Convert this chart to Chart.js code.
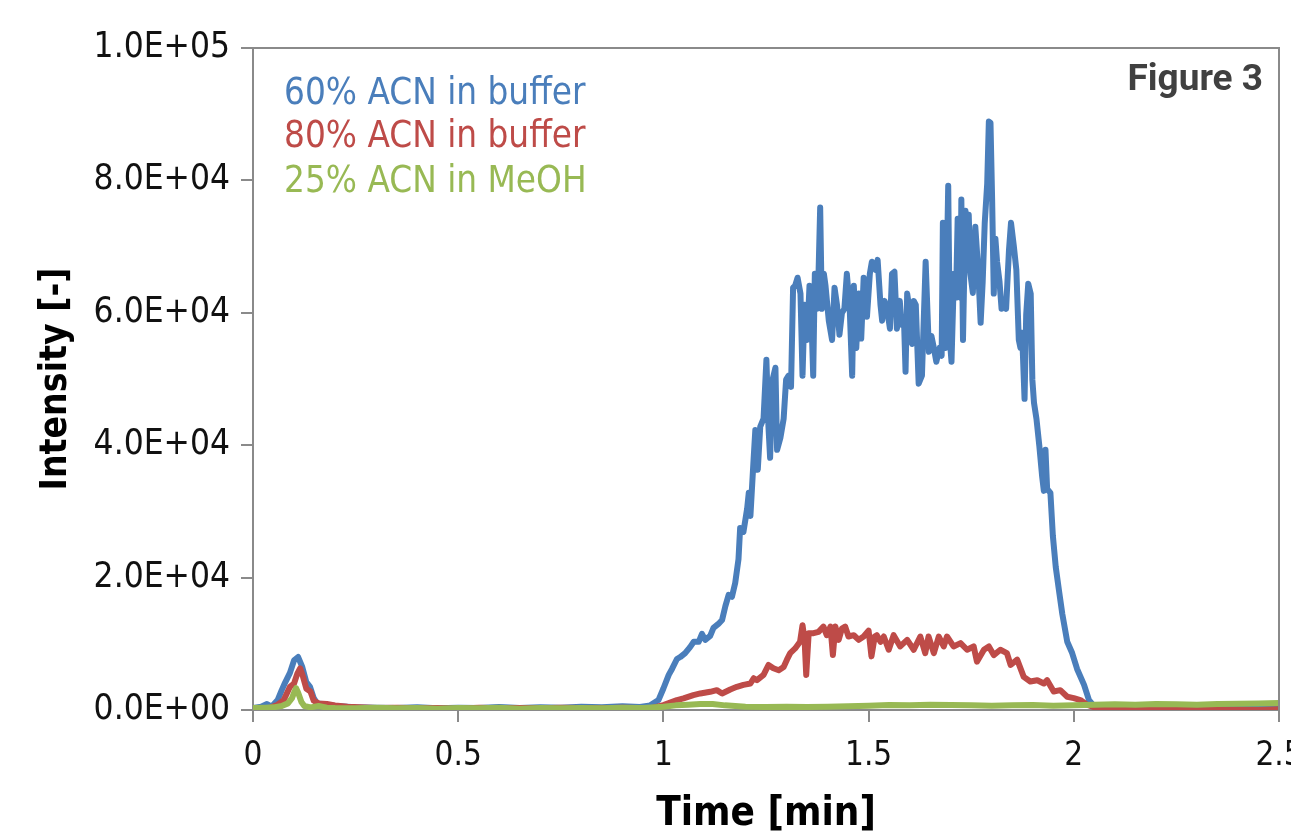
<!DOCTYPE html>
<html lang="en">
<head>
<meta charset="UTF-8">
<title>Figure 3</title>
<script src="https://cdn.jsdelivr.net/npm/chart.js"></script>
<style>
  html, body { margin: 0; padding: 0; background: #fff; overflow: hidden; }
  canvas { display: block; }
</style>
</head>
<body>
<canvas id="chart" width="1291" height="837"></canvas>
<script>
// series labels
var seriesLabels = ["60% ACN in buffer", "80% ACN in buffer", "25% ACN in MeOH"];

// 60% ACN in buffer (blue)
var blueTime = [0.000,0.020,0.034,0.045,0.060,0.070,0.078,0.090,0.100,0.110,0.120,0.130,0.139,0.148,0.156,0.170,0.190,0.210,0.250,0.300,0.350,0.400,0.450,0.500,0.550,0.600,0.650,0.700,0.750,0.800,0.850,0.900,0.943,
  0.968,0.988,1.000,1.013,1.021,1.033,1.041,1.053,1.065,1.074,1.086,1.094,1.102,1.114,1.122,1.134,1.143,1.151,1.159,1.167,1.175,1.183,1.187,1.195,1.204,1.208,1.212,1.220,1.224,1.230,1.236,1.244,1.251,1.256,1.260,1.266,1.273,1.277,1.285,1.293,1.299,1.305,1.311,1.316,1.321,1.327,1.334,1.339,1.344,1.350,1.356,1.360,1.365,1.369,1.374,1.378,1.382,1.386,1.391,1.395,1.403,1.411,1.417,1.423,1.429,1.435,1.441,1.447,1.454,1.460,1.464,1.470,1.476,1.482,1.488,1.496,1.503,1.508,1.517,1.522,1.529,1.533,1.539,1.545,1.552,1.557,1.563,1.569,1.576,1.580,1.586,1.590,1.594,1.598,1.602,1.606,1.610,1.615,1.622,1.630,1.639,1.647,1.653,1.659,1.665,1.673,1.678,1.681,1.687,1.694,1.698,1.702,1.708,1.713,1.717,1.724,1.726,1.730,1.736,1.740,1.744,1.748,1.754,1.760,1.767,1.773,1.778,1.783,1.789,1.793,1.797,1.801,1.805,1.809,1.813,1.819,1.824,1.830,1.835,1.842,1.847,1.854,1.860,1.866,1.870,1.874,1.880,1.884,1.889,1.895,1.899,1.903,1.909,1.916,1.923,1.927,1.931,1.935,1.943,1.949,1.956,1.964,1.972,1.984,1.996,2.008,2.025,2.037,2.049,2.065,
  2.100,2.150,2.200,2.250,2.300,2.350,2.400,2.450,2.500];
var blueInt = [300,500,900,500,1500,3000,4100,5600,7500,8000,6500,4200,3500,1800,1000,900,700,550,400,350,300,420,260,350,300,450,300,400,350,480,400,580,450,
  700,1500,3250,5300,6200,7700,8000,8600,9500,10300,10300,11500,10600,11200,12400,13000,13600,15700,17400,17100,19200,22800,27500,26900,30400,32800,29300,38100,42300,36300,42800,44000,52900,42800,38100,49900,51700,39300,41100,44000,49900,50500,48800,63800,64100,65300,62900,50500,61200,55900,64100,60600,50500,65900,60600,65900,75900,60600,65900,64100,58800,55900,63800,61200,56700,60000,60600,65900,60600,50500,64100,54700,62900,56100,65300,59400,65900,67700,66500,68000,61200,58800,61800,60600,57600,65900,66200,57600,61800,58200,59400,51100,62900,61200,55900,55300,61800,61200,49300,50500,67700,54100,56500,54700,52600,54700,53500,73600,54700,79200,55900,52600,65900,62300,74200,62300,77100,55900,75400,66500,74800,65900,63000,73000,66500,58500,64700,73600,79500,88900,88700,77100,62900,71200,67700,64700,60600,61800,60600,69400,73600,70000,66500,55900,54700,57000,47000,59700,64400,62900,49900,46400,44000,39900,35200,33100,39300,33400,32800,26300,21600,18000,14500,10300,8600,6200,3800,1500,600,450,
  500,400,550,450,500,400,550,500,450];

// 80% ACN in buffer (red)
var redTime = [0.000,0.040,0.060,0.075,0.090,0.100,0.108,0.115,0.122,0.130,0.140,0.148,0.160,0.180,0.200,0.230,0.300,0.350,0.400,0.450,0.500,0.550,0.600,0.650,0.700,0.750,0.800,0.850,0.900,0.968,
  1.000,1.033,1.049,1.073,1.090,1.114,1.130,1.143,1.163,1.179,1.195,1.212,1.220,1.228,1.244,1.256,1.268,1.281,1.293,1.301,1.309,1.321,1.333,1.339,1.344,1.348,1.354,1.366,1.378,1.390,1.398,1.407,1.413,1.419,1.427,1.435,1.443,1.451,1.464,1.476,1.488,1.500,1.507,1.515,1.520,1.529,1.537,1.549,1.561,1.577,1.594,1.610,1.626,1.638,1.646,1.659,1.671,1.683,1.691,1.707,1.724,1.740,1.756,1.764,1.781,1.793,1.805,1.821,1.837,1.846,1.862,1.878,1.894,1.911,1.927,1.935,1.951,1.967,1.984,2.000,2.016,2.032,2.057,
  2.100,2.150,2.200,2.250,2.300,2.350,2.400,2.450,2.500];
var redInt = [200,300,800,1500,3500,4000,5500,6300,5000,3200,2800,1400,1000,900,700,500,300,350,250,300,200,350,250,300,250,350,300,250,350,250,
  750,1500,1750,2250,2500,2750,3000,2500,3100,3500,3800,4000,4800,4500,5300,6800,6300,6000,6500,7600,8600,9300,10300,12800,10600,5300,11600,11600,11800,12600,11300,12600,8300,12600,10600,12300,12600,11100,11300,10600,11100,12000,8100,11100,11300,10300,11100,9100,11300,9600,10600,9100,11100,8600,11100,8600,11100,9600,11100,9600,10100,9100,9600,7300,9100,9600,8300,9100,8600,6800,7600,5000,4300,4500,4000,4500,2800,3000,2000,1800,1500,800,250,
  0,100,50,0,100,0,50,0,100];

// 25% ACN in MeOH (green)
var greenTime = [0.000,0.030,0.050,0.070,0.085,0.095,0.100,0.105,0.110,0.118,0.125,0.140,0.160,0.180,0.200,0.250,0.300,0.350,0.400,0.450,0.500,0.550,0.600,0.650,0.700,0.750,0.800,0.850,0.900,0.950,
  1.000,1.030,1.060,1.090,1.120,1.150,1.200,1.250,1.300,1.350,1.400,1.450,1.500,1.550,1.600,1.650,1.700,1.750,1.800,1.850,1.900,1.950,2.000,2.050,2.100,2.150,2.200,2.250,2.300,2.350,2.400,2.450,2.500];
var greenInt = [300,350,400,600,1000,1800,2600,3300,2600,1200,600,400,600,350,300,250,350,250,300,200,300,250,350,200,300,250,300,250,350,300,
  500,700,800,900,900,700,500,450,500,450,500,550,650,750,700,800,750,700,650,700,750,650,700,800,850,800,900,850,800,900,950,1000,1050];

// tick labels
var xTicks = [0, 0.5, 1, 1.5, 2, 2.5];
var yTicks = [0, 20000, 40000, 60000, 80000, 100000];

var corBlue = '#4a7ebb';
var corRed = '#be4b48';
var corGreen = '#98b954';
var corAxis = '#8a8a8a';
var fonte = '"DejaVu Sans Condensed", "DejaVu Sans", sans-serif';

function pontos(tempo, valores) {
    return tempo.map(function (t, i) { return { x: t, y: valores[i] }; });
}

// formato 2.0E+04
function formatoExp(v) {
    var s = v.toExponential(1).split('e');
    var exp = parseInt(s[1], 10);
    var sinal = exp < 0 ? '-' : '+';
    var num = Math.abs(exp);
    return s[0] + 'E' + sinal + (num < 10 ? '0' + num : num);
}

// borda de cima/direita, legenda e "Figure 3"
var extras = {
    id: 'extras',
    afterDraw: function (chart) {
        var ctx = chart.ctx;
        var a = chart.chartArea;
        ctx.save();
        ctx.strokeStyle = corAxis;
        ctx.lineWidth = 2;
        ctx.beginPath();
        ctx.moveTo(a.left, a.top);
        ctx.lineTo(a.right, a.top);
        ctx.lineTo(a.right, a.bottom);
        ctx.stroke();

        ctx.textAlign = 'left';
        ctx.textBaseline = 'alphabetic';
        ctx.font = '36.5px ' + fonte;
        var linhas = [104, 147, 192];
        chart.data.datasets.forEach(function (ds, i) {
            ctx.fillStyle = ds.borderColor;
            ctx.fillText(ds.label, 284, linhas[i]);
        });

        ctx.textAlign = 'right';
        ctx.fillStyle = '#404040';
        ctx.font = 'bold 37px Roboto, "Liberation Sans", sans-serif';
        ctx.fillText('Figure 3', 1263, 90);
        ctx.restore();
    }
};

var ctx = document.getElementById('chart').getContext('2d');
var grafico = new Chart(ctx, {
    type: 'line',
    data: {
        datasets: [
            { label: seriesLabels[0], data: pontos(blueTime, blueInt), borderColor: corBlue, borderWidth: 6, order: 3 },
            { label: seriesLabels[1], data: pontos(redTime, redInt), borderColor: corRed, borderWidth: 6, order: 2 },
            { label: seriesLabels[2], data: pontos(greenTime, greenInt), borderColor: corGreen, borderWidth: 6, order: 1 }
        ]
    },
    options: {
        responsive: false,
        animation: false,
        elements: {
            line: { tension: 0, borderJoinStyle: 'round', borderCapStyle: 'round' },
            point: { radius: 0, hoverRadius: 0 }
        },
        layout: { padding: { top: 48, right: 12, left: 0, bottom: 0 } },
        plugins: {
            legend: { display: false },
            tooltip: { enabled: false }
        },
        scales: {
            x: {
                type: 'linear',
                min: xTicks[0],
                max: xTicks[xTicks.length - 1],
                afterBuildTicks: function (s) { s.ticks = xTicks.map(function (v) { return { value: v }; }); },
                afterFit: function (s) { s.height = 127; s.paddingLeft = 0; s.paddingRight = 0; },
                grid: { drawOnChartArea: false, drawTicks: true, tickLength: 12, color: corAxis, lineWidth: 2 },
                border: { display: true, color: corAxis, width: 2 },
                ticks: { color: '#111', padding: 15, maxRotation: 0, callback: function (v) { return String(v); }, font: { family: fonte, size: 33 } },
                title: { display: true, text: 'Time [min]', color: '#000', padding: { top: 0, bottom: -2 }, font: { family: fonte, size: 40, weight: 'bold' } }
            },
            y: {
                min: yTicks[0],
                max: yTicks[yTicks.length - 1],
                afterBuildTicks: function (s) { s.ticks = yTicks.map(function (v) { return { value: v }; }); },
                afterFit: function (s) { s.width = 253; s.paddingTop = 0; s.paddingBottom = 0; },
                grid: { drawOnChartArea: false, drawTicks: true, tickLength: 12, color: corAxis, lineWidth: 2 },
                border: { display: true, color: corAxis, width: 2 },
                ticks: { color: '#111', padding: 11, callback: function (v) { return formatoExp(v); }, font: { family: fonte, size: 35 } },
                title: { display: true, text: 'Intensity [-]', color: '#000', padding: { top: 34, bottom: 0 }, font: { family: fonte, size: 37, weight: 'bold' } }
            }
        }
    },
    plugins: [extras]
});
</script>
</body>
</html>
